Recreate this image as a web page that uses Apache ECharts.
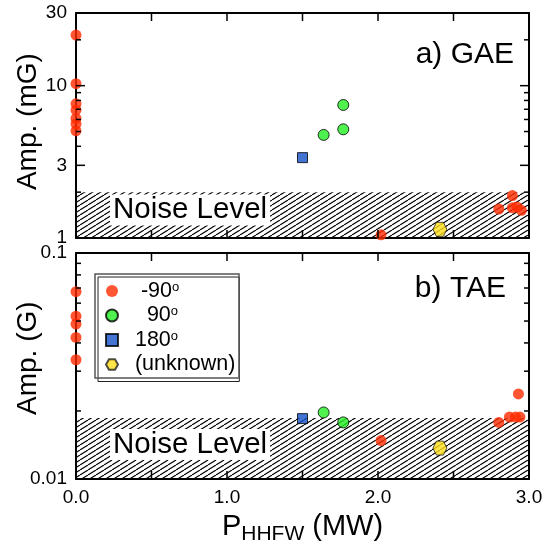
<!DOCTYPE html>
<html>
<head>
<meta charset="utf-8">
<script src="https://cdn.jsdelivr.net/npm/echarts@6/dist/echarts.min.js"></script>
<style>
  html, body { margin: 0; padding: 0; background: #fff; }
  #chart { width: 555px; height: 544px; }
</style>
</head>
<body>
<div id="chart"></div>
<script>
// --- data ---
// a) GAE, amplitude in mG
const gaeRed = [[0, 21.5], [0, 10.3], [0, 7.6], [0, 6.9], [0, 6.1], [0, 5.6], [0, 5.05],
  [2.02, 1.05], [2.80, 1.55], [2.89, 1.90], [2.89, 1.58], [2.92, 1.60], [2.95, 1.52]];
const gaeGreen = [[1.64, 4.75], [1.77, 5.17], [1.77, 7.47]];
const gaeBlue = [[1.50, 3.37]];
const gaeYellow = [[2.41, 1.14]];
const gaeNoise = 2.0;

// b) TAE, amplitude in G
const taeRed = [[0, 0.0674], [0, 0.0525], [0, 0.0485], [0, 0.0423], [0, 0.0337],
  [2.02, 0.0148], [2.80, 0.0178], [2.87, 0.0188], [2.91, 0.0188], [2.94, 0.0188], [2.93, 0.0238]];
const taeGreen = [[1.64, 0.0197], [1.77, 0.0178]];
const taeBlue = [[1.50, 0.0185]];
const taeYellow = [[2.41, 0.0137]];
const taeNoise = 0.0186;

const seriesNames = ['-90', '90', '180', '(unknown)'];
const xTicks = [0, 0.5, 1, 1.5, 2, 2.5, 3];
const xLabelTicks = [0, 1, 2, 3];
const gaeMajor = [1, 3, 10, 30];
const gaeMinor = [2, 4, 5, 6, 7, 8, 9, 20];
const taeMajor = [0.01, 0.1];
const taeMinor = [0.02, 0.03, 0.04, 0.05, 0.06, 0.07, 0.08, 0.09];

const FONT = 'Liberation Sans, Arial, Helvetica, sans-serif';
const hexPath = 'path://M0,433 L250,0 L750,0 L1000,433 L750,866 L250,866 Z';

// diagonal hatch for the noise band
const hatch = document.createElement('canvas');
hatch.width = 8; hatch.height = 5;
const hctx = hatch.getContext('2d');
hctx.strokeStyle = '#000';
hctx.lineWidth = 1.1;
[-8, 0, 8].forEach(off => {
  hctx.beginPath();
  hctx.moveTo(off, 5);
  hctx.lineTo(off + 8, 0);
  hctx.stroke();
});

const chart = echarts.init(document.getElementById('chart'));

const axLine = () => ({ show: true, onZero: false, lineStyle: { color: '#000', width: 2 } });

function xAx(grid, pos, labels) {
  return {
    type: 'value', gridIndex: grid, position: pos, min: 0, max: 3, interval: 0.5,
    axisLine: axLine(),
    axisTick: { show: false },
    axisLabel: labels ? {
      show: true, fontSize: 19, fontFamily: FONT, color: '#000', margin: 9,
      formatter: v => (xLabelTicks.indexOf(v) >= 0 ? v.toFixed(1) : '')
    } : { show: false },
    splitLine: { show: false }
  };
}

function yAx(grid, pos, min, max, ticks, name) {
  const ax = {
    type: 'log', logBase: 10, gridIndex: grid, position: pos, min: min, max: max,
    axisLine: axLine(),
    axisTick: { show: false },
    axisLabel: ticks ? {
      show: true, fontSize: 19, fontFamily: FONT, color: '#000', margin: 9, customValues: ticks.slice()
    } : { show: false },
    splitLine: { show: false }
  };
  if (name) {
    ax.name = name;
    ax.nameLocation = 'middle';
    ax.nameRotate = 90;
    ax.nameGap = 34;
    ax.nameMoveOverlap = false;
    ax.nameTextStyle = { fontSize: 28, fontFamily: FONT, color: '#000' };
  }
  return ax;
}

function points(name, data, xi, yi) {
  const styles = {
    '-90': { symbol: 'circle', symbolSize: 11, itemStyle: { color: '#ff2a00', borderWidth: 0 } },
    '90': { symbol: 'circle', symbolSize: 11, itemStyle: { color: '#22ee22', borderColor: '#000', borderWidth: 1 } },
    '180': { symbol: 'rect', symbolSize: 10, itemStyle: { color: '#1450c8', borderColor: '#000', borderWidth: 1 } },
    '(unknown)': { symbol: hexPath, symbolSize: 14, itemStyle: { color: '#ffde1a', borderColor: '#222', borderWidth: 1 } }
  };
  return Object.assign({
    name: name, type: 'scatter', xAxisIndex: xi, yAxisIndex: yi, data: data, z: 5, clip: false
  }, styles[name]);
}

function noiseBand(lo, hi, xi, yi, dy) {
  return {
    name: 'noise', type: 'scatter', xAxisIndex: xi, yAxisIndex: yi, data: [], z: 1, silent: true,
    markArea: {
      silent: true,
      itemStyle: { color: { image: hatch, repeat: 'repeat' }, borderWidth: 0 },
      label: {
        show: true, position: 'insideLeft', distance: 34, offset: [0, dy],
        formatter: 'Noise Level', fontSize: 29.5, fontFamily: FONT, color: '#000',
        backgroundColor: '#fff', padding: [1, 3, 0, 3]
      },
      data: [[{ yAxis: lo }, { yAxis: hi }]]
    }
  };
}

const legendText = {
  '-90': '   -90{d|o}',
  '90': '    90{d|o}',
  '180': '  180{d|o}',
  '(unknown)': '  (unknown)'
};

const legendFrame = {
  type: 'rect', z: 100, silent: true,
  shape: { x: 95, y: 274, width: 144, height: 104 },
  style: { fill: null, stroke: '#555', lineWidth: 1.5 }
};

chart.setOption({
  animation: false,
  backgroundColor: '#fff',
  title: [
    { text: 'a) GAE', right: 41, top: 40, padding: 0,
      textStyle: { fontSize: 30, fontWeight: 'normal', fontFamily: FONT, color: '#000' } },
    { text: 'b) TAE', right: 49, top: 274, padding: 0,
      textStyle: { fontSize: 30, fontWeight: 'normal', fontFamily: FONT, color: '#000' } }
  ],
  legend: {
    data: seriesNames,
    orient: 'vertical', left: 98, top: 277,
    padding: [3, 4, 6, 7], itemGap: 2.5, itemWidth: 12, itemHeight: 12,
    borderColor: '#222', borderWidth: 1, backgroundColor: '#fff',
    formatter: n => legendText[n],
    textStyle: {
      fontSize: 21.5, fontFamily: FONT, color: '#000', lineHeight: 21,
      rich: { d: { fontSize: 13, lineHeight: 13, verticalAlign: 'top', fontFamily: FONT, color: '#000' } }
    }
  },
  graphic: [legendFrame],
  grid: [
    { left: 76, right: 26, top: 13, height: 225, outerBoundsMode: 'none' },
    { left: 76, right: 26, top: 253, height: 226, outerBoundsMode: 'none' }
  ],
  xAxis: [
    xAx(0, 'bottom', false),
    xAx(0, 'top', false),
    Object.assign(xAx(1, 'bottom', true), {
      name: '{p|P}{s|HHFW}{p| (MW)}', nameLocation: 'middle', nameGap: 33, nameMoveOverlap: false,
      nameTextStyle: {
        fontFamily: FONT, color: '#000',
        rich: {
          p: { fontSize: 29, lineHeight: 29, verticalAlign: 'top', fontFamily: FONT, color: '#000' },
          s: { fontSize: 21, lineHeight: 33, verticalAlign: 'bottom', fontFamily: FONT, color: '#000' }
        }
      }
    }),
    xAx(1, 'top', false)
  ],
  yAxis: [
    yAx(0, 'left', 1, 30, gaeMajor, ' Amp. (mG)'),
    yAx(0, 'right', 1, 30, null),
    yAx(1, 'left', 0.01, 0.1, taeMajor, '  Amp. (G)'),
    yAx(1, 'right', 0.01, 0.1, null)
  ],
  series: [
    noiseBand(1, gaeNoise, 0, 0, -5),
    noiseBand(0.01, taeNoise, 2, 2, -4),
    points('-90', gaeRed, 0, 0),
    points('90', gaeGreen, 0, 0),
    points('180', gaeBlue, 0, 0),
    points('(unknown)', gaeYellow, 0, 0),
    points('-90', taeRed, 2, 2),
    points('90', taeGreen, 2, 2),
    points('180', taeBlue, 2, 2),
    points('(unknown)', taeYellow, 2, 2)
  ]
});

// inward tick marks, placed with the axes' own scales after layout
function tickLines(xi, yi, ymin, ymax, major, minor) {
  const out = [];
  const add = (x, y, dx, dy) => {
    const p = chart.convertToPixel({ xAxisIndex: xi, yAxisIndex: yi }, [x, y]);
    out.push({
      type: 'line', z: 120, silent: true,
      shape: { x1: p[0], y1: p[1], x2: p[0] + dx, y2: p[1] + dy },
      style: { stroke: '#000', lineWidth: 1.5 }
    });
  };
  xTicks.forEach(v => { add(v, ymin, 0, -8); add(v, ymax, 0, 8); });
  major.forEach(v => { add(0, v, 9, 0); add(3, v, -9, 0); });
  minor.forEach(v => { add(0, v, 5, 0); add(3, v, -5, 0); });
  return out;
}

chart.setOption({
  graphic: [legendFrame]
    .concat(tickLines(0, 0, 1, 30, gaeMajor, gaeMinor))
    .concat(tickLines(2, 2, 0.01, 0.1, taeMajor, taeMinor))
});
</script>
</body>
</html>
